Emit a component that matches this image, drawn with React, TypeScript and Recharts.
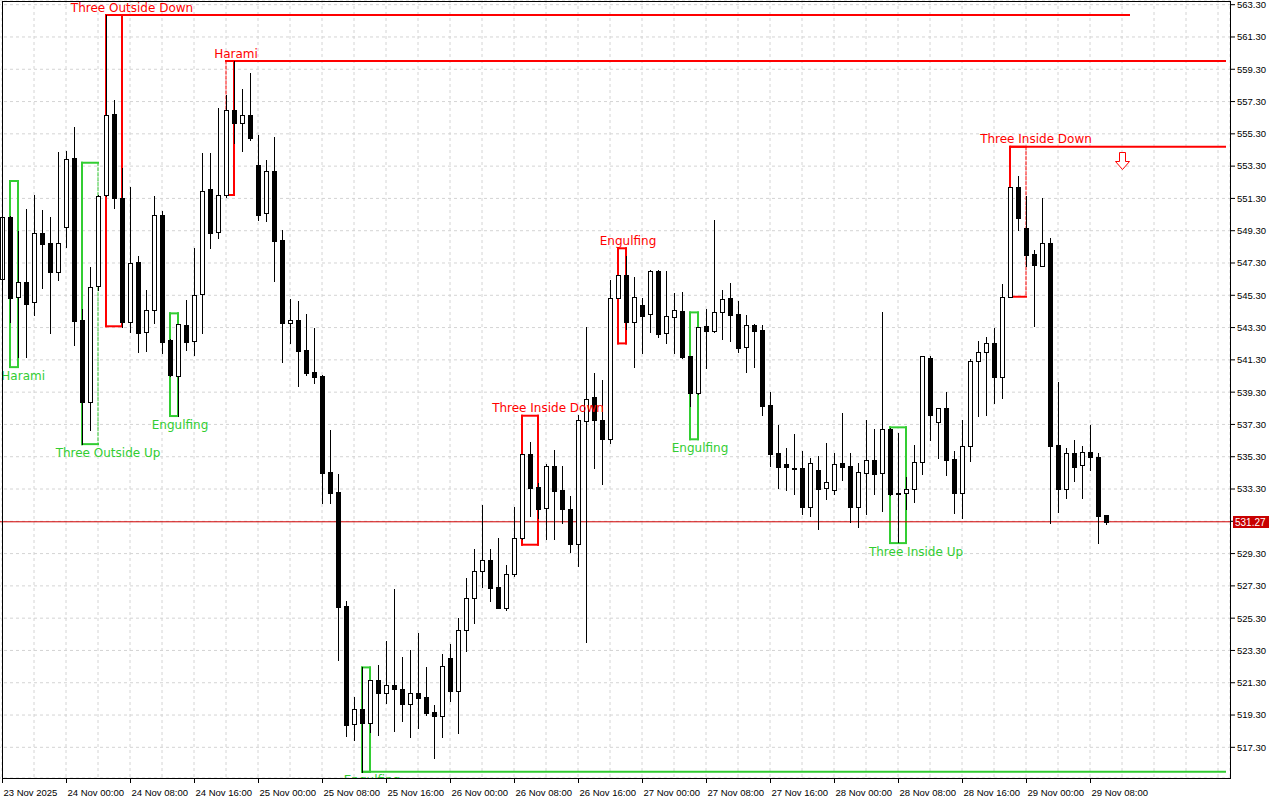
import React from "react";
import {
  Bar,
  CartesianGrid,
  ComposedChart,
  ReferenceDot,
  ReferenceLine,
  XAxis,
  YAxis
} from "recharts";

// hourly bars, 23 Nov 16:00 .. 29 Nov 10:00
const TICK_LABELS = [
  "23 Nov 2025", "24 Nov 00:00", "24 Nov 08:00", "24 Nov 16:00", "25 Nov 00:00", "25 Nov 08:00",
  "25 Nov 16:00", "26 Nov 00:00", "26 Nov 08:00", "26 Nov 16:00", "27 Nov 00:00", "27 Nov 08:00",
  "27 Nov 16:00", "28 Nov 00:00", "28 Nov 08:00", "28 Nov 16:00", "29 Nov 00:00", "29 Nov 08:00"
];

const OPEN = [
  546.29, 550.15, 545.17, 546.10, 544.86, 549.14, 548.52, 546.76, 549.51, 553.78,
  543.77, 538.71, 545.89, 551.49, 556.52, 551.30, 543.62, 547.34, 543.00, 544.37,
  550.27, 542.53, 540.32, 543.44, 542.47, 545.36, 551.88, 549.20, 551.49, 556.78,
  555.99, 556.47, 553.37, 550.38, 552.99, 548.72, 543.56, 543.77, 541.91, 540.53,
  540.30, 534.33, 533.09, 526.05, 518.76, 519.65, 518.82, 521.47, 520.64, 521.16,
  520.91, 519.96, 520.64, 520.41, 519.48, 519.24, 522.81, 520.80, 524.56, 526.53,
  528.20, 528.88, 527.21, 525.94, 528.01, 530.24, 535.45, 533.40, 532.10, 534.72,
  533.24, 532.06, 529.87, 537.53, 539.00, 537.57, 536.41, 545.11, 546.57, 543.66,
  544.68, 544.12, 546.78, 542.94, 543.97, 544.32, 541.54, 539.23, 543.40, 543.10,
  544.28, 545.11, 544.12, 542.07, 543.46, 543.15, 538.50, 535.51, 534.85, 534.58,
  534.58, 532.16, 534.46, 533.34, 533.22, 534.89, 534.72, 532.20, 534.31, 535.08,
  534.27, 536.99, 533.04, 533.03, 533.28, 534.95, 541.43, 537.43, 538.33, 535.14,
  533.03, 535.96, 541.23, 541.77, 542.32, 540.25, 545.17, 551.99, 549.45, 547.86,
  547.13, 548.52, 536.02, 533.28, 535.51, 534.78, 535.61, 535.30, 531.69
];

const HIGH = [
  550.90, 550.20, 549.30, 550.64, 551.49, 550.58, 550.17, 554.17, 554.24, 555.74,
  544.45, 547.03, 551.50, 562.66, 557.40, 553.16, 552.01, 547.73, 545.63, 551.45,
  550.54, 542.60, 543.50, 545.01, 548.25, 554.09, 554.09, 556.92, 557.70, 559.81,
  558.08, 559.05, 555.23, 553.68, 555.08, 549.34, 545.07, 544.94, 544.16, 543.25,
  540.36, 536.95, 534.23, 526.36, 520.39, 522.27, 521.50, 522.40, 523.90, 527.10,
  522.89, 523.32, 524.36, 522.29, 519.92, 523.08, 523.70, 525.29, 527.77, 529.56,
  532.31, 529.56, 530.24, 528.59, 532.20, 535.45, 536.21, 533.70, 534.83, 535.71,
  534.72, 532.86, 537.88, 543.31, 540.47, 540.05, 546.24, 546.54, 547.75, 546.41,
  545.11, 546.86, 546.86, 546.80, 545.42, 545.52, 541.54, 543.35, 544.43, 549.96,
  545.63, 546.04, 544.94, 544.08, 543.52, 543.46, 539.33, 537.26, 535.84, 536.70,
  535.65, 535.20, 535.34, 536.13, 535.51, 537.99, 535.51, 534.93, 537.57, 537.01,
  544.24, 537.05, 536.75, 534.06, 536.02, 541.54, 541.56, 538.30, 539.33, 535.65,
  537.57, 541.35, 542.48, 542.69, 543.27, 546.00, 551.98, 552.69, 551.45, 548.10,
  551.31, 548.87, 539.91, 535.82, 536.33, 535.96, 537.26, 535.51, 531.69
];

const LOW = [
  543.50, 543.62, 541.49, 541.49, 544.08, 545.77, 542.98, 546.24, 548.31, 542.22,
  536.08, 536.95, 545.60, 551.45, 550.69, 543.35, 543.04, 541.80, 541.85, 543.56,
  541.74, 540.30, 537.82, 541.91, 541.60, 542.94, 548.21, 548.83, 551.40, 554.71,
  554.25, 554.92, 549.96, 549.92, 546.20, 541.18, 542.32, 539.70, 540.36, 539.85,
  532.45, 532.41, 522.70, 518.02, 517.75, 515.78, 518.26, 518.06, 520.02, 518.33,
  518.95, 517.92, 518.51, 519.30, 516.62, 517.92, 520.18, 518.16, 523.28, 524.98,
  527.21, 526.38, 525.91, 525.80, 527.90, 530.20, 531.64, 531.50, 530.18, 530.18,
  531.17, 529.41, 528.55, 523.84, 534.58, 533.59, 536.13, 545.11, 543.20, 540.84,
  541.70, 543.04, 542.69, 542.32, 541.74, 541.40, 538.46, 539.20, 540.77, 543.04,
  542.59, 542.48, 541.80, 540.56, 540.87, 537.88, 534.74, 533.38, 533.24, 532.97,
  531.73, 531.63, 530.82, 532.68, 533.01, 533.86, 531.24, 530.96, 531.73, 533.01,
  531.95, 532.90, 530.00, 532.04, 532.47, 534.21, 536.33, 535.20, 534.16, 531.83,
  531.52, 535.03, 537.82, 537.88, 538.65, 538.92, 545.17, 549.34, 547.11, 543.41,
  547.10, 531.17, 531.89, 532.72, 533.81, 532.76, 534.47, 529.93, 531.11
];

const CLOSE = [
  550.17, 545.15, 546.10, 544.74, 549.14, 548.49, 546.76, 548.52, 553.72, 543.72,
  538.71, 545.79, 551.47, 556.45, 551.30, 543.66, 547.28, 542.98, 544.39, 550.25,
  542.42, 540.36, 543.50, 542.42, 545.32, 551.76, 549.18, 551.49, 556.78, 555.99,
  556.45, 555.06, 550.27, 552.99, 548.68, 543.60, 543.77, 541.87, 540.50, 540.25,
  534.31, 533.07, 526.01, 518.68, 519.65, 518.82, 521.47, 520.64, 521.17, 520.89,
  519.96, 520.64, 520.37, 519.44, 519.24, 522.33, 520.80, 524.56, 526.53, 528.20,
  528.88, 527.18, 525.94, 528.01, 530.24, 535.45, 533.38, 532.06, 534.72, 533.19,
  532.08, 529.91, 537.57, 538.86, 537.57, 536.41, 545.11, 546.54, 543.66, 545.17,
  544.03, 546.78, 542.92, 543.99, 544.38, 541.49, 539.23, 543.35, 543.09, 544.24,
  545.05, 544.08, 542.05, 543.46, 543.10, 538.46, 535.48, 534.68, 534.64, 534.55,
  532.16, 534.89, 533.32, 533.71, 534.85, 534.68, 532.20, 534.33, 535.08, 534.25,
  536.99, 532.97, 532.99, 533.28, 534.95, 541.52, 537.88, 538.30, 535.09, 533.03,
  535.96, 541.23, 541.77, 542.32, 540.25, 545.17, 551.98, 550.10, 547.79, 547.17,
  548.52, 535.98, 533.28, 535.51, 534.68, 535.61, 535.30, 531.64, 531.27
];

const Y_TICKS = [
  517.3, 519.3, 521.3, 523.3, 525.3, 527.3, 529.3, 531.3, 533.3, 535.3, 537.3, 539.3,
  541.3, 543.3, 545.3, 547.3, 549.3, 551.3, 553.3, 555.3, 557.3, 559.3, 561.3, 563.3
];

const LAST_PRICE = 531.27;
const SLOTS = 154; // bars + empty space on the right

const PATTERNS = [
  { name: "Harami", from: 1, to: 2, top: 552.38, bottom: 540.85, bull: true },
  { name: "Three Outside Up", from: 10, to: 12, top: 553.51, bottom: 536.08, bull: true, dashRight: true },
  { name: "Three Outside Down", from: 13, to: 15, top: 562.66, bottom: 543.38, bull: false },
  { name: "Engulfing", from: 21, to: 22, top: 544.18, bottom: 537.82, bull: true },
  { name: "Harami", from: 28, to: 29, top: 559.81, bottom: 551.51, bull: false, dashLeft: true },
  { name: "Engulfing", from: 45, to: 46, top: 522.25, bottom: 515.78, bull: true },
  { name: "Three Inside Down", from: 65, to: 67, top: 537.84, bottom: 529.85, bull: false },
  { name: "Engulfing", from: 77, to: 78, top: 548.21, bottom: 542.32, bull: false },
  { name: "Engulfing", from: 86, to: 87, top: 544.24, bottom: 536.38, bull: true },
  { name: "Three Inside Up", from: 111, to: 113, top: 537.12, bottom: 529.95, bull: true },
  { name: "Three Inside Down", from: 126, to: 128, top: 554.5, bottom: 545.21, bull: false, dashRight: true }
];

const LEVELS = [
  { price: 562.66, from: 13, to: 141, bull: false },
  { price: 559.81, from: 29, to: 153, bull: false },
  { price: 554.5, from: 126, to: 153, bull: false },
  { price: 515.78, from: 45, to: 153, bull: true }
];

const SIGNAL = { bar: 140, price: 553.62 };

const RED = "#ff0000";
const GREEN = "#32cd32";
const PLOT_BOTTOM = 778;
const AXIS_FONT = "'Liberation Sans', Arial, sans-serif";
const LABEL_FONT = "'DejaVu Sans', Verdana, sans-serif";

const data = Array.from({ length: SLOTS }, (_, i) => ({
  i,
  range: i < OPEN.length ? [LOW[i], HIGH[i]] : null,
  o: OPEN[i],
  h: HIGH[i],
  l: LOW[i],
  c: CLOSE[i]
}));

function Candle(props: any) {
  const { x, y, width, height, payload } = props;
  if (!payload || payload.o == null) return null;
  const top = Math.min(y, y + height);
  const h = Math.abs(height);
  const span = payload.h - payload.l || 1;
  const py = (v: number) => top + ((payload.h - v) / span) * h;
  const cx = Math.round(x + width / 2);
  const bTop = Math.round(py(Math.max(payload.o, payload.c)));
  const bBot = Math.round(py(Math.min(payload.o, payload.c)));
  const bull = payload.c >= payload.o;
  return (
    <g>
      <line x1={cx + 0.5} x2={cx + 0.5} y1={Math.round(top)} y2={Math.round(top + h) + 1} stroke="#000" strokeWidth={1} />
      {bBot - bTop < 1 ? (
        <line x1={cx - 2} x2={cx + 3} y1={bTop + 0.5} y2={bTop + 0.5} stroke="#000" strokeWidth={1} />
      ) : (
        <rect x={cx - 1.5} y={bTop + 0.5} width={4} height={bBot - bTop} fill={bull ? "#fff" : "#000"} stroke="#000" strokeWidth={1} />
      )}
    </g>
  );
}

function TimeTick(props: any) {
  const { x, y, payload } = props;
  const i = payload.value;
  if (i % 8 !== 0 || i / 8 >= TICK_LABELS.length) return <g />;
  const px = Math.round(x) + 0.5;
  return (
    <g>
      <line x1={px} x2={px} y1={y} y2={y + 5} stroke="#000" strokeWidth={1} />
      <text x={px + 1} y={y + 18} fill="#000" fontSize={9.5} fontFamily={AXIS_FONT}>
        {TICK_LABELS[i / 8]}
      </text>
    </g>
  );
}

export default function App() {
  return (
    <div style={{ position: "absolute", left: 0, top: 0, width: 1280, height: 800, background: "#fff", overflow: "hidden" }}>
      <ComposedChart width={1280} height={800} data={data} margin={{ top: 0, right: 0, bottom: 0, left: -2 }}>
        <defs>
          <clipPath id="plot-clip">
            <rect x={-10} y={-10} width={1240} height={PLOT_BOTTOM + 10} />
          </clipPath>
        </defs>
        <CartesianGrid stroke="#d4d4d4" strokeDasharray="3 3" />
        <XAxis
          dataKey="i"
          type="category"
          interval={3}
          height={22}
          tickSize={0}
          tickMargin={0}
          axisLine={false}
          tickLine={false}
          tick={<TimeTick />}
        />
        <YAxis
          orientation="right"
          width={50}
          domain={[515.4, 563.59]}
          allowDataOverflow
          ticks={Y_TICKS}
          interval={0}
          tickFormatter={(v: number) => v.toFixed(2)}
          tick={{ fill: "#000", fontSize: 9.5, fontFamily: AXIS_FONT }}
          tickLine={{ stroke: "#000" }}
          tickSize={5}
          tickMargin={2}
          axisLine={false}
        />

        {PATTERNS.flatMap((p, k) => {
          const col = p.bull ? GREEN : RED;
          const sides = [
            { seg: [{ x: p.from, y: p.top }, { x: p.to, y: p.top }], dash: false },
            { seg: [{ x: p.from, y: p.bottom }, { x: p.to, y: p.bottom }], dash: false },
            { seg: [{ x: p.from, y: p.top }, { x: p.from, y: p.bottom }], dash: !!p.dashLeft },
            { seg: [{ x: p.to, y: p.top }, { x: p.to, y: p.bottom }], dash: !!p.dashRight }
          ];
          return sides.map((s, j) => (
            <ReferenceLine
              key={`box-${k}-${j}`}
              segment={s.seg}
              stroke={col}
              strokeWidth={s.dash ? 1 : 2}
              strokeDasharray={s.dash ? "3 2" : undefined}
              strokeLinecap="square"
              ifOverflow="visible"
              zIndex={50}
            />
          ));
        })}

        {LEVELS.map((lv, k) => (
          <ReferenceLine
            key={`lvl-${k}`}
            segment={[{ x: lv.from, y: lv.price }, { x: lv.to, y: lv.price }]}
            stroke={lv.bull ? GREEN : RED}
            strokeWidth={2}
            ifOverflow="visible"
            zIndex={50}
          />
        ))}

        <ReferenceLine y={LAST_PRICE} stroke="#d00000" strokeWidth={1} zIndex={60} />

        <Bar dataKey="range" isAnimationActive={false} zIndex={300} shape={(p: any) => <Candle {...p} />} />

        {PATTERNS.map((p, k) => {
          const center = p.to - p.from === 1 ? 10 : 26;
          const halfWidth = p.name.length * 3.7;
          return (
            <ReferenceDot
              key={`lab-${k}`}
              x={p.from}
              y={p.bull ? p.bottom : p.top}
              r={1}
              ifOverflow="visible"
              shape={(sp: any) => (
                <text
                  x={Math.max(sp.cx + center, halfWidth + 1)}
                  y={sp.cy + (p.bull ? 12.5 : -3.5)}
                  textAnchor="middle"
                  fill={p.bull ? GREEN : RED}
                  fontSize={12}
                  fontFamily={LABEL_FONT}
                  clipPath="url(#plot-clip)"
                >
                  {p.name}
                </text>
              )}
            />
          );
        })}

        <ReferenceDot
          x={SIGNAL.bar}
          y={SIGNAL.price}
          r={1}
          ifOverflow="visible"
          shape={(sp: any) => {
            const cx = Math.round(sp.cx) + 0.5;
            const cy = Math.round(sp.cy) + 0.5;
            const d = `M${cx - 3} ${cy - 9} L${cx + 3} ${cy - 9} L${cx + 3} ${cy} L${cx + 7} ${cy} L${cx} ${cy + 8} L${cx - 7} ${cy} L${cx - 3} ${cy} Z`;
            return <path d={d} fill="#fff" stroke={RED} strokeWidth={1} />;
          }}
        />

        <ReferenceDot
          x={SLOTS - 1}
          y={LAST_PRICE}
          r={1}
          ifOverflow="visible"
          zIndex={3000}
          shape={(sp: any) => (
            <g>
              <rect x={sp.cx + 7} y={Math.round(sp.cy) - 6} width={36} height={12} fill="#c80000" />
              <text x={sp.cx + 9} y={Math.round(sp.cy) + 4} fill="#fff" fontSize={10} fontFamily={AXIS_FONT}>
                {LAST_PRICE.toFixed(2)}
              </text>
            </g>
          )}
        />
      </ComposedChart>
      <div
        style={{
          position: "absolute",
          left: 2,
          top: 1,
          width: 1229,
          height: 778,
          border: "1px solid #000",
          boxSizing: "border-box",
          pointerEvents: "none"
        }}
      />
    </div>
  );
}
